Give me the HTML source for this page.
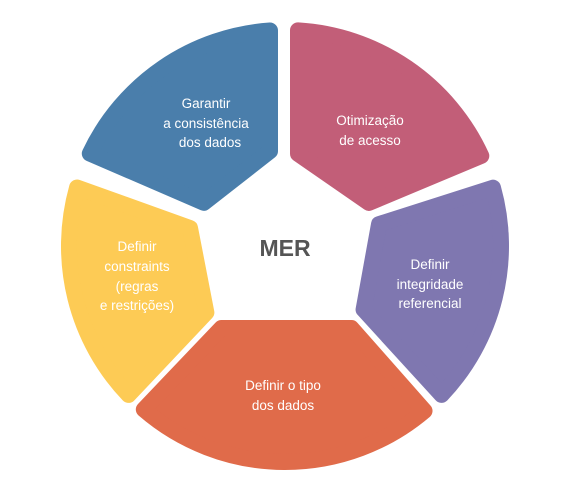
<!DOCTYPE html>
<html><head><meta charset="utf-8"><style>
html,body{margin:0;padding:0;background:#fff;}
svg{display:block;}
text{font-family:"Liberation Sans",sans-serif;}
</style></head><body>
<svg id="s" width="580" height="496" viewBox="0 0 580 496">
<g id="segs"></g>
<g fill="#fff" font-size="13.5" text-anchor="middle">
<text x="206" y="108">Garantir</text>
<text x="206" y="128">a consistência</text>
<text x="210" y="147">dos dados</text>
<text x="370" y="125">Otimização</text>
<text x="370" y="145">de acesso</text>
<text x="430" y="269">Definir</text>
<text x="430" y="289">integridade</text>
<text x="430" y="308">referencial</text>
<text x="283" y="390">Definir o tipo</text>
<text x="283" y="410">dos dados</text>
<text x="137" y="251">Definir</text>
<text x="137" y="271">constraints</text>
<text x="137" y="291">(regras</text>
<text x="137" y="310">e restrições)</text>
</g>
<text x="285" y="256" font-size="23" font-weight="bold" fill="#555" text-anchor="middle">MER</text>
</svg>
<script>
(function(){
var cx=285,cy=246,Ro=224,rc=8,R=Ro-rc;
var segs=[
[[80,158],[205,212],[278,155],[278,22],"#4a7eab"],
[[290,22],[290,158],[368,212],[492,160],"#c25e78"],
[[497,178],[372,218],[355,312],[440,405],"#7f77b0"],
[[430,405],[355,320],[218,320],[137,405],"#e06b4a"],
[[130,405],[215,315],[197,222],[66,175],"#fdcb55"]
];
function offLine(a,b,c){
 var dx=b[0]-a[0],dy=b[1]-a[1],L=Math.hypot(dx,dy);var n=[-dy/L,dx/L];
 var s=(c[0]-a[0])*n[0]+(c[1]-a[1])*n[1];if(s<0)n=[-n[0],-n[1]];
 return {p:[a[0]+n[0]*rc,a[1]+n[1]*rc],d:[dx/L,dy/L]};
}
function inter(l1,l2){
 var x=l1.d[0]*l2.d[1]-l1.d[1]*l2.d[0];
 var t=((l2.p[0]-l1.p[0])*l2.d[1]-(l2.p[1]-l1.p[1])*l2.d[0])/x;
 return [l1.p[0]+t*l1.d[0],l1.p[1]+t*l1.d[1]];
}
function circ(l,near){
 var fx=l.p[0]-cx,fy=l.p[1]-cy,b=fx*l.d[0]+fy*l.d[1],c=fx*fx+fy*fy-R*R;
 var disc=Math.sqrt(b*b-c),t1=-b+disc,t2=-b-disc;
 var q1=[l.p[0]+t1*l.d[0],l.p[1]+t1*l.d[1]],q2=[l.p[0]+t2*l.d[0],l.p[1]+t2*l.d[1]];
 return Math.hypot(q1[0]-near[0],q1[1]-near[1])<Math.hypot(q2[0]-near[0],q2[1]-near[1])?q1:q2;
}
var out='';
segs.forEach(function(s){
 var c=[(s[0][0]+s[1][0]+s[2][0]+s[3][0])/4,(s[0][1]+s[1][1]+s[2][1]+s[3][1])/4];
 var L1=offLine(s[0],s[1],c),L2=offLine(s[1],s[2],c),L3=offLine(s[2],s[3],c);
 var q0=circ(L1,s[0]),q1=inter(L1,L2),q2=inter(L2,L3),q3=circ(L3,s[3]);
 var a3=Math.atan2(q3[1]-cy,q3[0]-cx),a0=Math.atan2(q0[1]-cy,q0[0]-cx),da=a0-a3;
 while(da>Math.PI)da-=2*Math.PI;while(da<-Math.PI)da+=2*Math.PI;
 var sw=da>0?1:0;
 var f=function(p){return p[0].toFixed(2)+' '+p[1].toFixed(2);};
 out+='<path d="M'+f(q0)+' L'+f(q1)+' L'+f(q2)+' L'+f(q3)+' A'+R+' '+R+' 0 0 '+sw+' '+f(q0)+' Z" fill="'+s[4]+'" stroke="'+s[4]+'" stroke-width="'+(2*rc)+'" stroke-linejoin="round"/>';
});
document.getElementById('segs').innerHTML=out;
})();
</script>
</body></html>
